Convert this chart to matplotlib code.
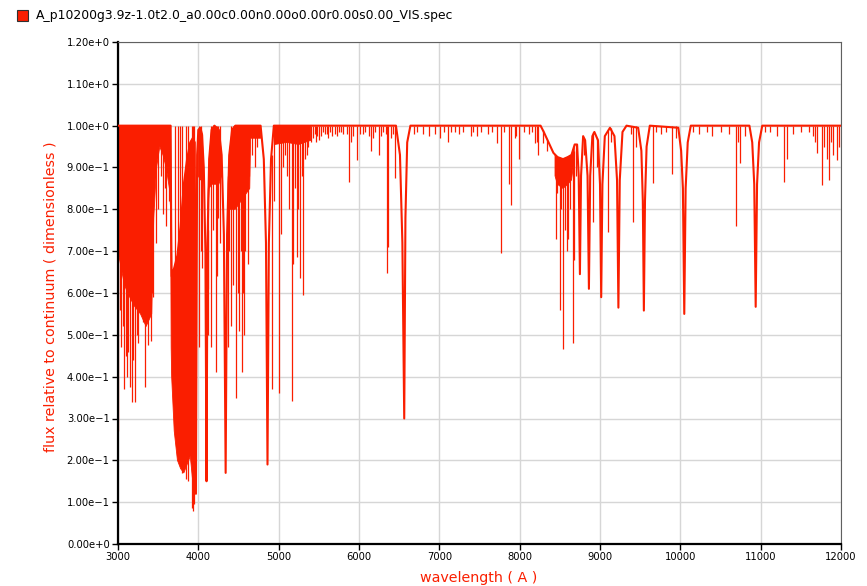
import numpy as np
import matplotlib
matplotlib.use("Agg")
from matplotlib import pyplot as plt
from matplotlib.patches import Rectangle

# pseudo-continuum: broad wings and cores of the hydrogen lines
cont_wl = [3000, 3655, 3662, 3668, 3700, 3740, 3780, 3820, 3860, 3900, 3930, 3955,
           3970, 3985, 4000, 4025, 4045, 4068, 4088, 4102, 4114, 4135, 4165, 4200,
           4255, 4290, 4318, 4340, 4358, 4385, 4420, 4460, 4775, 4815, 4842, 4861,
           4878, 4905, 4940, 6460, 6510, 6540, 6563, 6578, 6600, 6640, 8260, 8300,
           8360, 8420, 8470, 8540, 8600, 8645, 8685, 8715, 8735, 8750, 8764, 8790,
           8815, 8845, 8862, 8878, 8905, 8930, 8975, 9000, 9015, 9030, 9060, 9124,
           9180, 9212, 9229, 9246, 9280, 9330, 9475, 9515, 9533, 9546, 9560, 9580,
           9620, 9975, 10010, 10032, 10049, 10066, 10092, 10130, 10860, 10895, 10920,
           10938, 10955, 10980, 11020, 12000]
cont_flux = [1.0, 1.0, 0.76, 0.64, 0.66, 0.69, 0.76, 0.86, 0.92, 0.96, 0.97, 0.96,
             0.12, 0.93, 0.99, 0.995, 0.98, 0.90, 0.70, 0.15, 0.72, 0.92, 0.99, 1.0,
             0.99, 0.93, 0.74, 0.17, 0.74, 0.93, 0.99, 1.0, 1.0, 0.92, 0.72, 0.19,
             0.72, 0.92, 1.0, 1.0, 0.93, 0.72, 0.30, 0.78, 0.96, 1.0, 1.0, 0.985,
             0.96, 0.935, 0.925, 0.92, 0.925, 0.93, 0.955, 0.955, 0.88, 0.645, 0.88, 0.975,
             0.965, 0.88, 0.61, 0.88, 0.975, 0.985, 0.965, 0.86, 0.59, 0.86, 0.975, 0.995,
             0.975, 0.87, 0.565, 0.87, 0.985, 1.0, 0.995, 0.94, 0.82, 0.558, 0.82, 0.95,
             1.0, 0.995, 0.94, 0.85, 0.55, 0.85, 0.96, 1.0, 1.0, 0.96, 0.86,
             0.567, 0.86, 0.96, 1.0, 1.0]

# regions blanketed by blended lines (nan separates the regions)
nan = np.nan
blend_wl = [3000, 3040, 3080, 3120, 3200, 3280, 3350, 3420, 3445, 3480, 3520, 3560,
            3600, 3640, 3655, 3662, 3668, 3700, 3740, 3780, 3820, 3860, 3900, 3930, 3955,
            nan, 4000, 4025, 4045, 4060,
            nan, 4120, 4135, 4165, 4200, 4255, 4290,
            nan, 4370, 4385, 4420, 4460, 4640, 4650, 4775,
            nan, 4950, 5100, 5250, 5400,
            nan, 8440, 8470, 8540, 8600, 8645, 8680]
blend_top = [1.0, 1.0, 1.0, 1.0, 1.0, 1.0, 1.0, 1.0, 1.0, 1.0, 1.0, 1.0,
             1.0, 1.0, 1.0, 0.76, 0.64, 0.66, 0.69, 0.76, 0.86, 0.92, 0.96, 0.97, 0.96,
             nan, 0.99, 0.995, 0.98, 0.93,
             nan, 0.82, 0.92, 0.99, 1.0, 0.99, 0.93,
             nan, 0.86, 0.93, 0.99, 1.0, 1.0, 1.0, 1.0,
             nan, 1.0, 1.0, 1.0, 1.0,
             nan, 0.93, 0.925, 0.92, 0.925, 0.93, 0.95]
blend_bot = [0.70, 0.66, 0.62, 0.60, 0.57, 0.55, 0.52, 0.55, 0.78, 0.90, 0.95, 0.93,
             0.90, 0.85, 0.80, 0.47, 0.40, 0.27, 0.20, 0.18, 0.17, 0.19, 0.21, 0.15, 0.20,
             nan, 0.88, 0.87, 0.88, 0.90,
             nan, 0.80, 0.85, 0.86, 0.86, 0.86, 0.88,
             nan, 0.80, 0.80, 0.80, 0.80, 0.85, 0.97, 0.97,
             nan, 0.955, 0.96, 0.955, 0.965,
             nan, 0.88, 0.86, 0.85, 0.86, 0.87, 0.92]

# narrow lines hanging from the continuum at 1.0
line_wl = [3002, 3020, 3033, 3060, 3075, 3095, 3108, 3130, 3149, 3170, 3191, 3216,
           3235, 3249, 3265, 3290, 3307, 3325, 3340, 3360, 3377, 3407, 3425, 3440,
           3470, 3502, 3530, 3556, 3580, 3598, 3630,
           3710, 3743, 3772, 3793, 3847, 3876, 3922, 3934, 3950,
           4008, 4030, 4158, 4178, 4220, 4229, 4250, 4270, 4411, 4435, 4469, 4490,
           4511, 4525, 4540, 4555, 4572, 4585, 4622, 4635, 4668, 4700, 4730,
           4946, 5010, 5029, 5050, 5080, 5100, 5130, 5162, 5183, 5200, 5225, 5240,
           5266, 5285, 5307, 5330, 5349, 5370, 5400, 5430, 5460, 5506, 5530, 5580,
           5620, 5660, 5700, 5750, 5800, 5879, 5900, 5970, 6010, 6080, 6145, 6175,
           6245, 6300, 6345, 6366, 6400, 6449,
           5450, 5480, 5550, 5600, 5640, 5720, 5780, 5850, 5920, 6050, 6120, 6200,
           6270, 6330, 6420,
           6680, 6720, 6800, 6870, 6940, 7008, 7060, 7112, 7200, 7300, 7390, 7465,
           7520, 7600, 7714, 7764, 7800, 7871, 7892, 7942, 7992, 8050, 8120, 8191,
           8212, 8232, 7150, 7250, 7420, 7650, 7950, 8150,
           9380, 9407, 9450, 9656, 9700, 9760, 9820, 9892, 9950, 10160, 10230,
           10330, 10400, 10500, 10600, 10693, 10720, 10740, 10800, 11060, 11120,
           11200, 11295, 11330, 11400, 11500, 11600, 11650,
           11680, 11700, 11764, 11790, 11820, 11847, 11880, 11905, 11950, 11975]
line_min = [0.27, 0.56, 0.47, 0.52, 0.37, 0.45, 0.40, 0.46, 0.375, 0.34, 0.44, 0.34,
            0.50, 0.48, 0.567, 0.60, 0.53, 0.58, 0.376, 0.55, 0.476, 0.485, 0.60, 0.59,
            0.72, 0.80, 0.88, 0.79, 0.85, 0.76, 0.82,
            0.31, 0.225, 0.19, 0.17, 0.155, 0.15, 0.086, 0.08, 0.095,
            0.47, 0.70, 0.47, 0.75, 0.41, 0.64, 0.78, 0.72, 0.52, 0.62, 0.35, 0.60,
            0.51, 0.70, 0.41, 0.60, 0.50, 0.70, 0.67, 0.88, 0.93, 0.90, 0.95,
            0.82, 0.36, 0.74, 0.90, 0.93, 0.88, 0.80, 0.343, 0.67, 0.85, 0.685, 0.80,
            0.635, 0.88, 0.595, 0.92, 0.93, 0.95, 0.96, 0.97, 0.96, 0.965, 0.975, 0.98,
            0.97, 0.975, 0.98, 0.985, 0.98, 0.866, 0.96, 0.918, 0.98, 0.985, 0.94, 0.97,
            0.93, 0.985, 0.647, 0.71, 0.97, 0.875,
            0.98, 0.975, 0.985, 0.98, 0.985, 0.975, 0.985, 0.98, 0.975, 0.98, 0.975, 0.985,
            0.975, 0.98, 0.98,
            0.98, 0.985, 0.98, 0.975, 0.98, 0.97, 0.985, 0.96, 0.985, 0.985, 0.975, 0.975,
            0.985, 0.98, 0.958, 0.695, 0.985, 0.86, 0.81, 0.97, 0.92, 0.985, 0.98, 0.958,
            0.96, 0.93, 0.985, 0.98, 0.985, 0.985, 0.975, 0.985,
            0.98, 0.77, 0.95, 0.864, 0.985, 0.98, 0.985, 0.884, 0.97, 0.985, 0.98,
            0.985, 0.975, 0.985, 0.98, 0.76, 0.96, 0.91, 0.975, 0.985, 0.985,
            0.975, 0.865, 0.92, 0.98, 0.985, 0.985, 0.975,
            0.96, 0.935, 0.858, 0.95, 0.92, 0.87, 0.96, 0.93, 0.918, 0.95]

# narrow lines sitting inside broad wings
wing_wl = [4042, 4116, 4124, 4373, 4386, 4913, 8286, 8336, 8448, 8470, 8502, 8520,
           8543, 8570, 8590, 8606, 8625, 8660, 8672, 8700, 8805, 8917, 8960, 9096, 9140]
wing_min = [0.66, 0.50, 0.61, 0.47, 0.70, 0.37, 0.958, 0.94, 0.73, 0.84, 0.56, 0.80,
            0.465, 0.75, 0.70, 0.73, 0.80, 0.48, 0.68, 0.88, 0.93, 0.77, 0.90, 0.745, 0.96]
wing_top = [0.98, 0.75, 0.85, 0.88, 0.93, 0.93, 0.99, 0.965, 0.93, 0.925, 0.92, 0.92,
            0.92, 0.92, 0.925, 0.925, 0.93, 0.93, 0.94, 0.955, 0.97, 0.985, 0.97, 0.99, 0.995]

x_ticks = [3000, 4000, 5000, 6000, 7000, 8000, 9000, 10000, 11000, 12000]
y_ticks = [0.0, 0.1, 0.2, 0.3, 0.4, 0.5, 0.6, 0.7, 0.8, 0.9, 1.0, 1.1, 1.2]

series_name = "A_p10200g3.9z-1.0t2.0_a0.00c0.00n0.00o0.00r0.00s0.00_VIS.spec"
red = "#fa1e00"


def sci_label(v, pos=None):
    if abs(v) < 1e-9:
        return "0.00e+0"
    e = int(np.floor(np.log10(abs(v)) + 1e-9))
    m = v / 10 ** e
    return "%.2fe%s%d" % (m, "+" if e >= 0 else "\u2212", abs(e))


fig = plt.figure(figsize=(8.67, 5.86), dpi=100)
W, H = 867, 586
ax = fig.add_axes([118 / W, (H - 544) / H, 723 / W, 502 / H])

ax.fill_between(blend_wl, blend_bot, blend_top, color=red, lw=0.6, zorder=2)
ax.vlines(line_wl, line_min, 1.0, color=red, lw=0.9, zorder=2)
ax.vlines(wing_wl, wing_min, wing_top, color=red, lw=0.9, zorder=2)
ax.plot(cont_wl, cont_flux, color=red, lw=1.5, zorder=3)

ax.set_xlim(3000, 12000)
ax.set_ylim(0, 1.2)
ax.set_xticks(x_ticks)
ax.set_yticks(y_ticks)
ax.yaxis.set_major_formatter(plt.FuncFormatter(sci_label))
ax.grid(True, color="#d6d6d6", lw=1.0)
ax.set_axisbelow(True)
ax.tick_params(direction="out", length=4, width=1, labelsize=7.2, pad=2,
               colors="black")

for side in ("left", "bottom"):
    ax.spines[side].set_linewidth(1.6)
    ax.spines[side].set_color("black")
for side in ("top", "right"):
    ax.spines[side].set_linewidth(0.8)
    ax.spines[side].set_color("#606060")

fig.text(479 / W, 1 - 578 / H, "wavelength ( A )", color=red, fontsize=10.3,
         ha="center", va="center")
fig.text(50.7 / W, 1 - 297 / H, "flux relative to continuum ( dimensionless )",
         color=red, fontsize=10.3, rotation=90, ha="center", va="center")

# legend entry at the top left
fig.patches.append(Rectangle((17 / W, 1 - 21 / H), 11 / W, 11 / H,
                             transform=fig.transFigure, facecolor=red,
                             edgecolor="#303030", lw=0.8))
fig.text(36 / W, 1 - 16 / H, series_name, fontsize=8.9, ha="left", va="center")

fig.savefig("out.png", dpi=100)
